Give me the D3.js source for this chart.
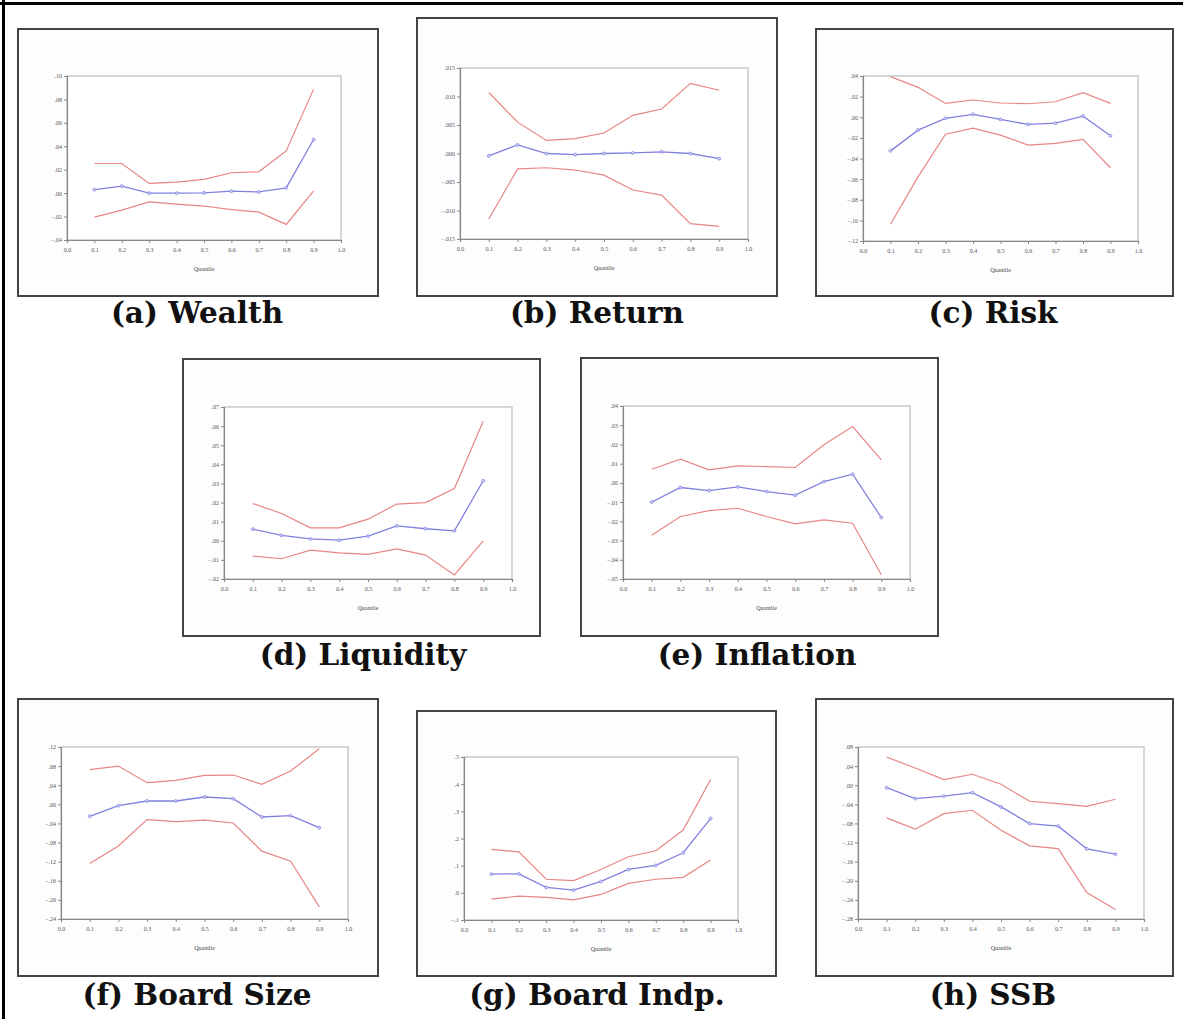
<!DOCTYPE html>
<html>
<head>
<meta charset="utf-8">
<script src="https://cdn.jsdelivr.net/npm/d3@7"></script>
<style>
  body { margin: 0; background: #fff; }
  svg { display: block; }
</style>
</head>
<body>
<div id="chart"></div>
<script>
// quantiles at which the coefficients were estimated
const quantiles = [0.1, 0.2, 0.3, 0.4, 0.5, 0.6, 0.7, 0.8, 0.9];
const xTickValues = [0.0, 0.1, 0.2, 0.3, 0.4, 0.5, 0.6, 0.7, 0.8, 0.9, 1.0];

// (a) Wealth
const wealthCoef  = [0.003, 0.006, 0.000, 0.000, 0.0003, 0.0017, 0.001, 0.0045, 0.0458];
const wealthUpper = [0.0253, 0.0253, 0.0083, 0.0094, 0.0117, 0.0174, 0.0182, 0.036, 0.0888];
const wealthLower = [-0.0205, -0.0145, -0.0074, -0.0094, -0.011, -0.014, -0.0162, -0.0267, 0.002];
const wealthTicks = [-0.04, -0.02, 0.00, 0.02, 0.04, 0.06, 0.08, 0.10];

// (b) Return
const returnCoef  = [-0.0004, 0.0015, 0.0000, -0.0002, 0.0000, 0.0001, 0.0003, 0.0000, -0.0009];
const returnUpper = [0.0107, 0.0055, 0.0023, 0.0026, 0.0036, 0.0067, 0.0078, 0.0123, 0.0111];
const returnLower = [-0.0115, -0.0027, -0.0025, -0.0029, -0.0038, -0.0064, -0.0073, -0.0123, -0.0128];
const returnTicks = [-0.015, -0.010, -0.005, 0.000, 0.005, 0.010, 0.015];

// (c) Risk
const riskCoef  = [-0.0326, -0.0125, -0.0011, 0.0028, -0.0021, -0.007, -0.0057, 0.0011, -0.018];
const riskUpper = [0.0394, 0.029, 0.0134, 0.0167, 0.0138, 0.0131, 0.015, 0.0238, 0.0134];
const riskLower = [-0.1038, -0.0578, -0.0164, -0.0105, -0.0173, -0.027, -0.0254, -0.0215, -0.049];
const riskTicks = [-0.12, -0.10, -0.08, -0.06, -0.04, -0.02, 0.00, 0.02, 0.04];

// (d) Liquidity
const liquidityCoef  = [0.0061, 0.0028, 0.001, 0.0003, 0.0024, 0.0078, 0.0063, 0.0052, 0.0314];
const liquidityUpper = [0.0195, 0.0143, 0.0068, 0.0068, 0.0113, 0.0192, 0.020, 0.0273, 0.0625];
const liquidityLower = [-0.008, -0.0094, -0.0049, -0.0063, -0.0071, -0.0042, -0.0075, -0.0179, 0.000];
const liquidityTicks = [-0.02, -0.01, 0.00, 0.01, 0.02, 0.03, 0.04, 0.05, 0.06, 0.07];

// (e) Inflation
const inflationCoef  = [-0.010, -0.0024, -0.004, -0.0021, -0.0045, -0.0064, 0.0007, 0.0045, -0.018];
const inflationUpper = [0.0071, 0.0123, 0.0068, 0.0088, 0.0085, 0.008, 0.0198, 0.0293, 0.012];
const inflationLower = [-0.0272, -0.0175, -0.0144, -0.0132, -0.0175, -0.0213, -0.0192, -0.021, -0.0478];
const inflationTicks = [-0.05, -0.04, -0.03, -0.02, -0.01, 0.00, 0.01, 0.02, 0.03, 0.04];

// (f) Board Size
const boardSizeCoef  = [-0.0251, -0.0028, 0.007, 0.007, 0.0153, 0.0118, -0.0265, -0.0237, -0.0488];
const boardSizeUpper = [0.0725, 0.0801, 0.0453, 0.0502, 0.0606, 0.0613, 0.0418, 0.0697, 0.1164];
const boardSizeLower = [-0.124, -0.087, -0.032, -0.036, -0.033, -0.039, -0.098, -0.119, -0.2146];
const boardSizeTicks = [-0.24, -0.20, -0.16, -0.12, -0.08, -0.04, 0.00, 0.04, 0.08, 0.12];

// (g) Board Indp.
const boardIndpCoef  = [0.069, 0.070, 0.020, 0.010, 0.042, 0.086, 0.101, 0.1475, 0.2735];
const boardIndpUpper = [0.160, 0.151, 0.050, 0.045, 0.086, 0.133, 0.155, 0.231, 0.417];
const boardIndpLower = [-0.023, -0.012, -0.017, -0.026, -0.006, 0.035, 0.050, 0.057, 0.121];
const boardIndpTicks = [-0.1, 0.0, 0.1, 0.2, 0.3, 0.4, 0.5];

// (h) SSB
const ssbCoef  = [-0.005, -0.028, -0.023, -0.0155, -0.0454, -0.0802, -0.0858, -0.133, -0.1444];
const ssbUpper = [0.059, 0.036, 0.0117, 0.0229, 0.002, -0.0336, -0.0385, -0.0441, -0.0294];
const ssbLower = [-0.0684, -0.092, -0.0594, -0.0524, -0.0942, -0.127, -0.1326, -0.2246, -0.260];
const ssbTicks = [-0.28, -0.24, -0.20, -0.16, -0.12, -0.08, -0.04, 0.00, 0.04, 0.08];

const titles = ["(a) Wealth", "(b) Return", "(c) Risk", "(d) Liquidity",
                "(e) Inflation", "(f) Board Size", "(g) Board Indp.", "(h) SSB"];

// layout: frame box, plot box, title position (pixels)
const panels = [
  {title: titles[0], coef: wealthCoef, upper: wealthUpper, lower: wealthLower, ticks: wealthTicks, dec: 2,
   frame: [18, 29, 378, 296], plot: [67, 76, 341, 240], tx: 197, ty: 323},
  {title: titles[1], coef: returnCoef, upper: returnUpper, lower: returnLower, ticks: returnTicks, dec: 3,
   frame: [417, 18, 777, 296], plot: [460, 68, 748, 239], tx: 597, ty: 323},
  {title: titles[2], coef: riskCoef, upper: riskUpper, lower: riskLower, ticks: riskTicks, dec: 2,
   frame: [816, 29, 1173, 296], plot: [863, 76, 1138, 241], tx: 993, ty: 323},
  {title: titles[3], coef: liquidityCoef, upper: liquidityUpper, lower: liquidityLower, ticks: liquidityTicks, dec: 2,
   frame: [183, 359, 540, 636], plot: [224, 407, 512, 579], tx: 363, ty: 665},
  {title: titles[4], coef: inflationCoef, upper: inflationUpper, lower: inflationLower, ticks: inflationTicks, dec: 2,
   frame: [581, 358, 938, 636], plot: [623, 406, 910, 579], tx: 757, ty: 665},
  {title: titles[5], coef: boardSizeCoef, upper: boardSizeUpper, lower: boardSizeLower, ticks: boardSizeTicks, dec: 2,
   frame: [18, 699, 378, 976], plot: [61, 747, 348, 919], tx: 197, ty: 1005},
  {title: titles[6], coef: boardIndpCoef, upper: boardIndpUpper, lower: boardIndpLower, ticks: boardIndpTicks, dec: 1,
   frame: [417, 711, 776, 976], plot: [464, 757, 738, 920], tx: 597, ty: 1005},
  {title: titles[7], coef: ssbCoef, upper: ssbUpper, lower: ssbLower, ticks: ssbTicks, dec: 2,
   frame: [816, 699, 1173, 976], plot: [858, 747, 1144, 919], tx: 993, ty: 1005}
];

const width = 1186, height = 1019;
const red = "#e88585", blue = "#8080e0";

const svg = d3.select("#chart").append("svg")
    .attr("width", width)
    .attr("height", height);

// outer page frame (top and left rules)
svg.append("rect").attr("x", 0).attr("y", 2).attr("width", 1183).attr("height", 3).attr("fill", "#000");
svg.append("rect").attr("x", 2).attr("y", 0).attr("width", 3).attr("height", height).attr("fill", "#000");

function noZero(dec){
    const f = d3.format("." + dec + "f");
    return d => f(d).replace("0.", ".");
}

panels.forEach(p => {
    const [fx0, fy0, fx1, fy1] = p.frame;
    const [px0, py0, px1, py1] = p.plot;
    const g = svg.append("g");

    g.append("rect")
        .attr("x", fx0).attr("y", fy0)
        .attr("width", fx1 - fx0).attr("height", fy1 - fy0)
        .attr("fill", "#fdfdfd")
        .attr("stroke", "#444")
        .attr("stroke-width", 2);

    const x = d3.scaleLinear().domain([0, 1]).range([px0, px1]);
    const y = d3.scaleLinear().domain(d3.extent(p.ticks)).range([py1, py0]);

    g.append("rect")
        .attr("x", px0).attr("y", py0)
        .attr("width", px1 - px0).attr("height", py1 - py0)
        .attr("fill", "#fff")
        .attr("stroke", "#bbb")
        .attr("stroke-width", 1.2);

    const yAxis = d3.axisLeft(y).tickValues(p.ticks).tickSize(3).tickPadding(2).tickFormat(noZero(p.dec));
    const xAxis = d3.axisBottom(x).tickValues(xTickValues).tickSize(3).tickPadding(5).tickFormat(d3.format(".1f"));

    g.append("g")
        .attr("transform", `translate(${px0},0)`)
        .call(yAxis)
        .call(a => a.select(".domain").attr("stroke", "#888").attr("stroke-width", 1.2))
        .call(a => a.selectAll(".tick line").attr("stroke", "#888"))
        .call(a => a.selectAll("text").attr("fill", "#555").style("font", "6px 'Liberation Serif'"));

    g.append("g")
        .attr("transform", `translate(0,${py1})`)
        .call(xAxis)
        .call(a => a.select(".domain").attr("stroke", "#888").attr("stroke-width", 1.2))
        .call(a => a.selectAll(".tick line").attr("stroke", "#888"))
        .call(a => a.selectAll("text").attr("fill", "#555").style("font", "6px 'Liberation Serif'"));

    g.append("text")
        .attr("x", (px0 + px1) / 2)
        .attr("y", py1 + 31)
        .attr("text-anchor", "middle")
        .attr("fill", "#444")
        .style("font", "6px 'Liberation Serif'")
        .text("Quantile");

    const line = d3.line()
        .x((d, i) => x(quantiles[i]))
        .y(d => y(d));

    [p.upper, p.lower].forEach(s => {
        g.append("path")
            .datum(s)
            .attr("fill", "none")
            .attr("stroke", red)
            .attr("stroke-width", 1.2)
            .attr("d", line);
    });

    g.append("path")
        .datum(p.coef)
        .attr("fill", "none")
        .attr("stroke", blue)
        .attr("stroke-width", 1.3)
        .attr("d", line);

    g.append("g")
        .selectAll("circle")
        .data(p.coef)
        .join("circle")
            .attr("cx", (d, i) => x(quantiles[i]))
            .attr("cy", d => y(d))
            .attr("r", 1.5)
            .attr("fill", "#d0d0f6")
            .attr("stroke", blue)
            .attr("stroke-width", 0.7);

    g.append("text")
        .attr("x", p.tx)
        .attr("y", p.ty)
        .attr("text-anchor", "middle")
        .attr("fill", "#111")
        .style("font", "bold 29.5px 'DejaVu Serif'")
        .text(p.title);
});
</script>
</body>
</html>
